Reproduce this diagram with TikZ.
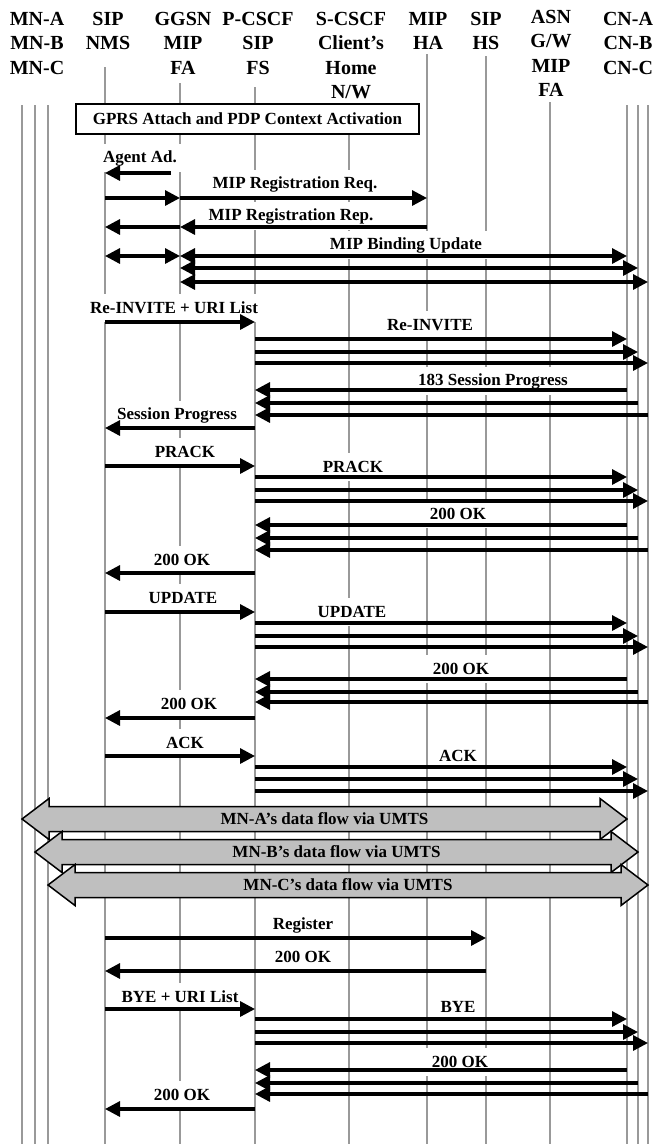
\documentclass[tikz,border=0pt]{standalone}
\usepackage{fontspec}
\setmainfont{Liberation Serif}
\usetikzlibrary{
  arrows.meta, % Triangle tips
  calc         % shifted points on the lifelines
}

\begin{document}
\begin{tikzpicture}[x=1pt, y=-1pt,
  hdr/.style={font=\fontsize{20}{24.5}\selectfont\bfseries, align=center, anchor=north, inner sep=0pt},
  lifeln/.style={draw=gray!80, line width=2.7pt},
  lbl/.style={font=\fontsize{17}{20}\selectfont\bfseries, fill=white, inner xsep=7pt, inner ysep=0pt, minimum height=28pt},
  tip/.style={Triangle[length=15pt, width=15pt]},
  msg/.style={-{Triangle[length=15pt, width=15pt]}, line width=3.2pt},
  bimsg/.style={{Triangle[length=15pt, width=15pt]}-{Triangle[length=15pt, width=15pt]}, line width=3.2pt},
  flow/.style={draw=black, line width=1.5pt, fill=gray!50, line join=miter},
  flowtxt/.style={font=\fontsize{17}{20}\selectfont\bfseries, inner sep=0pt},
]
  \useasboundingbox (0,0) rectangle (656,1144);

  % === column titles ===
  \node[hdr] (hMN)    at (37,12)  {MN-A\\MN-B\\MN-C};
  \node[hdr] (hNMS)   at (108,12) {SIP\\NMS};
  \node[hdr] (hGGSN)  at (183,12) {GGSN\\MIP\\FA};
  \node[hdr] (hPCSCF) at (258,12) {P-CSCF\\SIP\\FS};
  \node[hdr] (hSCSCF) at (351,12) {S-CSCF\\Client's\\Home\\N/W};
  \node[hdr] (hHA)    at (428,12) {MIP\\HA};
  \node[hdr] (hHS)    at (486,12) {SIP\\HS};
  \node[hdr] (hASN)   at (551,10) {ASN\\G/W\\MIP\\FA};
  \node[hdr] (hCN)    at (628,12) {CN-A\\CN-B\\CN-C};

  % === lifelines (top ends) ===
  \coordinate (mna)   at (22,105);
  \coordinate (mnb)   at (35,105);
  \coordinate (mnc)   at (48,105);
  \coordinate (nms)   at (105,67);
  \coordinate (ggsn)  at (180,83);
  \coordinate (pcscf) at (255,87);
  \coordinate (scscf) at (349,134);
  \coordinate (mipha) at (427,54);
  \coordinate (siphs) at (486,56);
  \coordinate (asn)   at (550,102);
  \coordinate (cna)   at (627,105);
  \coordinate (cnb)   at (638,105);
  \coordinate (cnc)   at (648,105);
  \foreach \p in {mna,mnb,mnc,nms,ggsn,pcscf,scscf,mipha,siphs,asn,cna,cnb,cnc}
    \draw[lifeln] (\p) -- (\p |- 0,1144);

  % GPRS box
  \node[draw, line width=1.2pt, fill=white, minimum width=343pt, minimum height=30pt, inner sep=0pt,
        font=\fontsize{17}{20}\selectfont\bfseries] (gprs) at (247.5,119) {GPRS Attach and PDP Context Activation};

  % === message texts ===
  \node[lbl] (lAgent)  at (140,158)  {Agent Ad.};
  \node[lbl] (lReq)    at (295,184)  {MIP Registration Req.};
  \node[lbl] (lRep)    at (291,216)  {MIP Registration Rep.};
  \node[lbl] (lBind)   at (406,245)  {MIP Binding Update};
  \node[lbl] (lReInv)  at (174,308)  {Re-INVITE + URI List};
  \node[lbl] (lReInvB) at (430,325)  {Re-INVITE};
  \node[lbl] (lProgB)  at (493,381)  {183 Session Progress};
  \node[lbl] (lProg)   at (177,415)  {Session Progress};
  \node[lbl] (lPrack)  at (185,452)  {PRACK};
  \node[lbl] (lPrackB) at (353,467)  {PRACK};
  \node[lbl] (lOkB1)   at (458,514)  {200 OK};
  \node[lbl] (lOk1)    at (182,560)  {200 OK};
  \node[lbl] (lUpd)    at (183,598)  {UPDATE};
  \node[lbl] (lUpdB)   at (352,612)  {UPDATE};
  \node[lbl] (lOkB2)   at (461,669)  {200 OK};
  \node[lbl] (lOk2)    at (189,704)  {200 OK};
  \node[lbl] (lAck)    at (185,743)  {ACK};
  \node[lbl] (lAckB)   at (458,756)  {ACK};
  \node[lbl] (lReg)    at (303,925)  {Register};
  \node[lbl] (lOkHS)   at (303,957)  {200 OK};
  \node[lbl] (lBye)    at (180,997)  {BYE + URI List};
  \node[lbl] (lByeB)   at (458,1007) {BYE};
  \node[lbl] (lOkB3)   at (460,1062) {200 OK};
  \node[lbl] (lOk3)    at (182,1095) {200 OK};

  % === mobile IP ===
  \draw[msg] ($(ggsn |- 0,173)+(-9,0)$) -- (nms |- 0,173);
  \draw[msg] (nms |- 0,198) -- (ggsn |- 0,198);
  \draw[msg] (ggsn |- 0,198) -- (mipha |- 0,198);
  \draw[msg] (mipha |- 0,227) -- (ggsn |- 0,227);
  \draw[msg] (ggsn |- 0,227) -- (nms |- 0,227);
  \draw[bimsg] (nms |- 0,256) -- (ggsn |- 0,256);
  \foreach \c/\y in {cna/256, cnb/268, cnc/282}
    \draw[bimsg] (ggsn |- 0,\y) -- (\c |- 0,\y);

  % === session set-up ===
  \draw[msg] (nms |- 0,322) -- (pcscf |- 0,322);
  \foreach \c/\y in {cna/339, cnb/352, cnc/363}
    \draw[msg] (pcscf |- 0,\y) -- (\c |- 0,\y);
  \foreach \c/\y in {cna/390, cnb/403, cnc/415}
    \draw[msg] (\c |- 0,\y) -- (pcscf |- 0,\y);
  \draw[msg] (pcscf |- 0,428) -- (nms |- 0,428);

  \draw[msg] (nms |- 0,466) -- (pcscf |- 0,466);
  \foreach \c/\y in {cna/477, cnb/490, cnc/501}
    \draw[msg] (pcscf |- 0,\y) -- (\c |- 0,\y);
  \foreach \c/\y in {cna/525, cnb/538, cnc/550}
    \draw[msg] (\c |- 0,\y) -- (pcscf |- 0,\y);
  \draw[msg] (pcscf |- 0,573) -- (nms |- 0,573);

  \draw[msg] (nms |- 0,612) -- (pcscf |- 0,612);
  \foreach \c/\y in {cna/623, cnb/636, cnc/647}
    \draw[msg] (pcscf |- 0,\y) -- (\c |- 0,\y);
  \foreach \c/\y in {cna/679, cnb/692, cnc/702}
    \draw[msg] (\c |- 0,\y) -- (pcscf |- 0,\y);
  \draw[msg] (pcscf |- 0,718) -- (nms |- 0,718);

  \draw[msg] (nms |- 0,756) -- (pcscf |- 0,756);
  \foreach \c/\y in {cna/767, cnb/779, cnc/791}
    \draw[msg] (pcscf |- 0,\y) -- (\c |- 0,\y);

  % === data flows ===
  \foreach \a/\b/\y/\who in {mna/cna/819/MN-A, mnb/cnb/852/MN-B, mnc/cnc/885/MN-C}{
    \draw[flow] (\a |- 0,\y) -- ++(27,-20.5) -- ++(0,8)
      -- ($(\b |- 0,\y)+(-27,-12.5)$) -- ++(0,-8) -- (\b |- 0,\y)
      -- ++(-27,20.5) -- ++(0,-8) -- ($(\a |- 0,\y)+(27,12.5)$) -- ++(0,8) -- cycle;
    \node[flowtxt] (f\who) at ($(\a |- 0,\y)!0.5!(\b |- 0,\y)$) {\who’s data flow via UMTS};
  }

  % === registration and tear-down ===
  \draw[msg] (nms |- 0,938) -- (siphs |- 0,938);
  \draw[msg] (siphs |- 0,971) -- (nms |- 0,971);

  \draw[msg] (nms |- 0,1009) -- (pcscf |- 0,1009);
  \foreach \c/\y in {cna/1019, cnb/1032, cnc/1043}
    \draw[msg] (pcscf |- 0,\y) -- (\c |- 0,\y);
  \foreach \c/\y in {cna/1070, cnb/1083, cnc/1094}
    \draw[msg] (\c |- 0,\y) -- (pcscf |- 0,\y);
  \draw[msg] (pcscf |- 0,1109) -- (nms |- 0,1109);
\end{tikzpicture}
\end{document}
